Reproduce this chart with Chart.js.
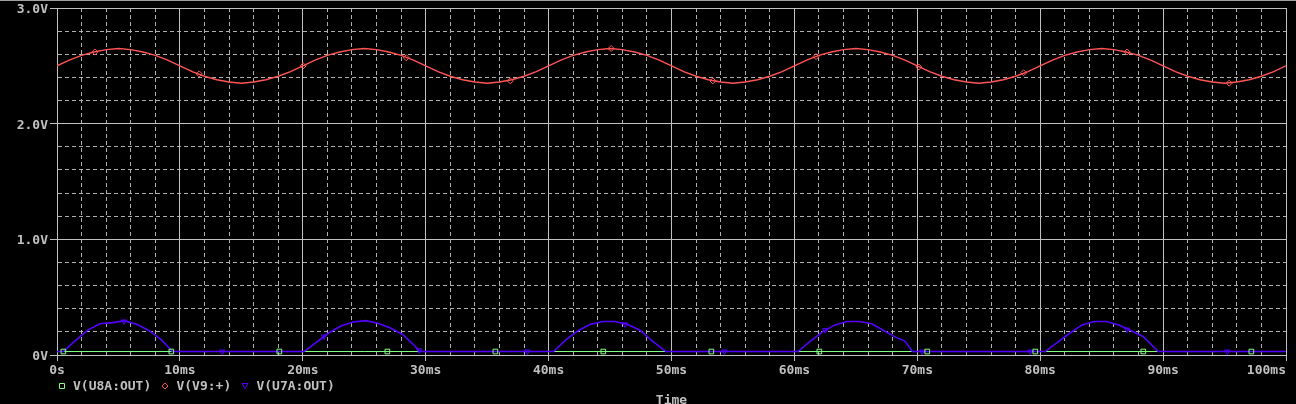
<!DOCTYPE html>
<html><head><meta charset="utf-8">
<script src="https://cdn.jsdelivr.net/npm/chart.js@4.4.0/dist/chart.umd.min.js"></script>
<style>html,body{margin:0;padding:0;background:#000;overflow:hidden}canvas{display:block}</style>
</head><body>
<canvas id="c" width="1296" height="404"></canvas>
<script>
// ---- data (time in ms, values in volts) ----
const seriesLabels = ['V(U8A:OUT)', 'V(V9:+)', 'V(U7A:OUT)'];

const timeMs = [0,1,2,3,4,5,6,7,8,9,10,11,12,13,14,15,16,17,18,19,
  20,21,22,23,24,25,26,27,28,29,30,31,32,33,34,35,36,37,38,39,
  40,41,42,43,44,45,46,47,48,49,50,51,52,53,54,55,56,57,58,59,
  60,61,62,63,64,65,66,67,68,69,70,71,72,73,74,75,76,77,78,79,
  80,81,82,83,84,85,86,87,88,89,90,91,92,93,94,95,96,97,98,99,100];

const vV9 = [2.50,2.55,2.59,2.62,2.64,2.65,2.64,2.62,2.59,2.55,2.50,2.45,2.41,2.38,2.36,2.35,2.36,2.38,2.41,2.45,
  2.50,2.55,2.59,2.62,2.64,2.65,2.64,2.62,2.59,2.55,2.50,2.45,2.41,2.38,2.36,2.35,2.36,2.38,2.41,2.45,
  2.50,2.55,2.59,2.62,2.64,2.65,2.64,2.62,2.59,2.55,2.50,2.45,2.41,2.38,2.36,2.35,2.36,2.38,2.41,2.45,
  2.50,2.55,2.59,2.62,2.64,2.65,2.64,2.62,2.59,2.55,2.50,2.45,2.41,2.38,2.36,2.35,2.36,2.38,2.41,2.45,
  2.50,2.55,2.59,2.62,2.64,2.65,2.64,2.62,2.59,2.55,2.50,2.45,2.41,2.38,2.36,2.35,2.36,2.38,2.41,2.45,2.50];

const u7aTimes = [0, 0.5,1.5,2.5,3.5,4.5,5.5,6.5,7.5,8.5,9.4,
  20.1,21.1,22.1,23.1,24.1,25.1,26.1,27.1,28.1,29.1,29.5,
  40.4,41.4,42.4,43.4,44.4,45.4,46.4,47.4,48.4,49.55,
  60.3,61.3,62.3,63.3,64.3,65.3,66.3,67.3,68.3,69.0,69.6,
  80.4,81.4,82.4,83.4,84.4,85.4,86.4,87.4,88.4,89.6,
  100];
const vU7A = [0.03, 0.03,0.125,0.215,0.27,0.28,0.295,0.265,0.21,0.13,0.03,
  0.03,0.11,0.19,0.25,0.285,0.297,0.275,0.235,0.18,0.08,0.03,
  0.03,0.13,0.21,0.265,0.29,0.29,0.265,0.216,0.125,0.03,
  0.03,0.12,0.20,0.26,0.29,0.29,0.27,0.21,0.15,0.12,0.03,
  0.03,0.11,0.188,0.26,0.29,0.29,0.26,0.21,0.158,0.03,
  0.03];

const u8aTimes = [0, 100];
const vU8A = [0.03, 0.03];

// marker symbols placed along each trace
const u8aMarkT = [0.52,9.3,18.09,26.88,35.67,44.45,53.24,62.03,70.81,79.6,88.39,97.18];
const u8aMarkV = [0.03,0.03,0.03,0.03,0.03,0.03,0.03,0.03,0.03,0.03,0.03,0.03];
const v9MarkT = [3.08,11.57,20.03,28.42,36.88,45.09,53.37,61.76,70.12,78.65,87.07,95.37];
const v9MarkV = [2.62,2.43,2.50,2.57,2.37,2.65,2.37,2.58,2.49,2.44,2.62,2.35];
const u7aMarkT = [5.45,13.45,21.72,29.48,38.27,46.22,54.3,62.51,70.41,79.2,87.06,95.22];
const u7aMarkV = [0.29,0.03,0.16,0.04,0.03,0.265,0.03,0.215,0.03,0.03,0.22,0.03];

const xTickLabels = {0:'0s',10:'10ms',20:'20ms',30:'30ms',40:'40ms',50:'50ms',60:'60ms',70:'70ms',80:'80ms',90:'90ms',100:'100ms'};
const yTickLabels = {0:'0V',1:'1.0V',2:'2.0V',3:'3.0V'};
const xAxisTitle = 'Time';

// ---- styles ----
const GREEN = '#80ff80', RED = '#ff5555', BLUE = '#5500ff';
const TEXT = '#c0c0c0', MAJOR = '#c0c0c0', MINOR = '#b0b0b0';
const FONT = {family: "'DejaVu Sans Mono', monospace", size: 13, weight: 'bold'};

const pts = (xs, ys) => xs.map((x, i) => ({x, y: ys[i]}));
const isMajorX = v => Math.abs(v / 10 - Math.round(v / 10)) < 1e-6;
const isMajorY = v => Math.abs(v - Math.round(v)) < 1e-6;

function drawMarker(ctx, style, cx, cy, color) {
  ctx.save();
  ctx.strokeStyle = color; ctx.lineWidth = 1;
  ctx.beginPath();
  if (style === 'rect') {
    ctx.rect(Math.round(cx) - 2.5, Math.round(cy) - 2.5, 5, 5);
  } else if (style === 'rectRot') {
    ctx.moveTo(cx, cy - 3); ctx.lineTo(cx + 3, cy); ctx.lineTo(cx, cy + 3); ctx.lineTo(cx - 3, cy); ctx.closePath();
  } else {
    ctx.moveTo(cx - 3, cy - 2.5); ctx.lineTo(cx + 3, cy - 2.5); ctx.lineTo(cx, cy + 2.5); ctx.closePath();
  }
  ctx.stroke();
  ctx.restore();
}

const overlay = {
  id: 'overlay',
  beforeDraw(chart) {
    const c = chart.ctx; c.save(); c.fillStyle = '#000'; c.fillRect(0, 0, chart.width, chart.height); c.restore();
  },
  afterDraw(chart) {
    const c = chart.ctx;
    c.save();
    c.fillStyle = '#a0a0a0'; c.fillRect(0, 0, chart.width, 1);
    c.font = `${FONT.weight} ${FONT.size}px ${FONT.family}`;
    c.fillStyle = TEXT; c.textBaseline = 'alphabetic'; c.textAlign = 'left';
    const styles = ['rect', 'rectRot', 'triangle'];
    const colors = [GREEN, RED, BLUE];
    let x = 57; const cy = 386, base = 390;
    for (let i = 0; i < 3; i++) {
      drawMarker(c, styles[i], x + 4.5, cy, colors[i]);
      c.fillStyle = TEXT;
      c.fillText(seriesLabels[i], x + 16, base);
      x = x + 16 + c.measureText(seriesLabels[i]).width + 9.2;
    }
    const a = chart.chartArea;
    c.textAlign = 'center';
    c.fillText(xAxisTitle, (a.left + a.right) / 2, 404);
    c.restore();
  }
};

new Chart(document.getElementById('c'), {
  type: 'line',
  data: {
    datasets: [
      {label: seriesLabels[0], data: pts(u8aTimes, vU8A), borderColor: GREEN, borderWidth: 1, pointRadius: 0, order: 5},
      {label: seriesLabels[1], data: pts(timeMs, vV9), borderColor: RED, borderWidth: 1.4, pointRadius: 0, order: 4},
      {label: seriesLabels[2], data: pts(u7aTimes, vU7A), borderColor: BLUE, borderWidth: 1.6, pointRadius: 0, order: 2},
      {label: 'm1', data: pts(u8aMarkT, u8aMarkV), showLine: false, pointStyle: 'rect', pointRadius: 3.3,
        pointBorderColor: GREEN, pointBackgroundColor: 'rgba(0,0,0,0)', pointBorderWidth: 1, order: 0},
      {label: 'm2', data: pts(v9MarkT, v9MarkV), showLine: false, pointStyle: 'rectRot', pointRadius: 3,
        pointBorderColor: RED, pointBackgroundColor: 'rgba(0,0,0,0)', pointBorderWidth: 1, order: 0},
      {label: 'm3', data: pts(u7aMarkT, u7aMarkV), showLine: false, pointStyle: 'triangle', pointRotation: 180, pointRadius: 3,
        pointBorderColor: BLUE, pointBackgroundColor: 'rgba(0,0,0,0)', pointBorderWidth: 1, order: 0}
    ]
  },
  options: {
    responsive: false, animation: false, devicePixelRatio: 1,
    layout: {padding: {top: 8, right: 10, left: 0, bottom: 0}},
    elements: {line: {tension: 0}},
    plugins: {legend: {display: false}, tooltip: {enabled: false}},
    scales: {
      x: {
        type: 'linear', min: 0, max: 100,
        ticks: {stepSize: 2, autoSkip: false, maxRotation: 0, padding: 2, color: TEXT, font: FONT,
          callback: v => { const k = Math.round(v); if (Math.abs(v - k) > 1e-6 || !(k in xTickLabels)) return ''; return k === 100 ? xTickLabels[k] + '     ' : xTickLabels[k]; }},
        grid: {lineWidth: 1, tickLength: 6,
          color: ctx => (ctx.tick && !isMajorX(ctx.tick.value)) ? MINOR : MAJOR,
          tickColor: ctx => (ctx.tick && isMajorX(ctx.tick.value)) ? MAJOR : 'rgba(0,0,0,0)'},
        border: {display: true, color: MAJOR, width: 1,
          dash: ctx => (ctx.tick && !isMajorX(ctx.tick.value)) ? [4, 3] : []},
        afterFit: s => { s.height = 49; s.paddingLeft = 0; s.paddingRight = 0; }
      },
      y: {
        type: 'linear', min: 0, max: 3,
        ticks: {stepSize: 0.2, autoSkip: false, padding: 2, labelOffset: 1.5, color: TEXT, font: FONT,
          callback: v => { const k = Math.round(v); if (Math.abs(v - k) > 1e-6 || !(k in yTickLabels)) return ''; return yTickLabels[k]; }},
        grid: {lineWidth: 1, tickLength: 7,
          color: ctx => (ctx.tick && !isMajorY(ctx.tick.value)) ? MINOR : MAJOR,
          tickColor: ctx => (ctx.tick && isMajorY(ctx.tick.value)) ? MAJOR : 'rgba(0,0,0,0)'},
        border: {display: true, color: MAJOR, width: 1,
          dash: ctx => (ctx.tick && !isMajorY(ctx.tick.value)) ? [4, 3] : []},
        afterFit: s => { s.width = 57; s.paddingTop = 0; s.paddingBottom = 0; }
      }
    }
  },
  plugins: [overlay]
});
</script>
</body></html>
